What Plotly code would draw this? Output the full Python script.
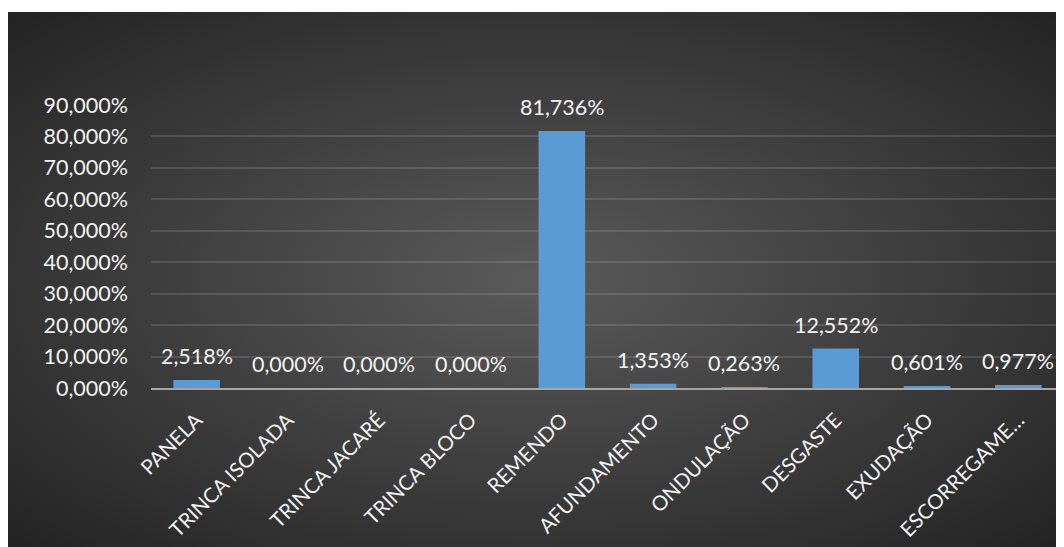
import plotly.graph_objects as go
import base64

categories = ["PANELA", "TRINCA ISOLADA", "TRINCA JACARÉ", "TRINCA BLOCO", "REMENDO",
              "AFUNDAMENTO", "ONDULAÇÃO", "DESGASTE", "EXUDAÇÃO", "ESCORREGAME…"]
values = [2.518, 0.000, 0.000, 0.000, 81.736, 1.353, 0.263, 12.552, 0.601, 0.977]
y_ticks = [0, 10, 20, 30, 40, 50, 60, 70, 80, 90]
y_tick_text = [f"{v:.3f}%".replace(".", ",") for v in y_ticks]
value_labels = [f"{v:.3f}%".replace(".", ",") for v in values]

# page has an 8px body margin, so the figure is 1056x539 placed at (8,8)
W, H = 1056, 539
L, R, T, B = 143, 0, 97, 159
pw, ph = W - L - R, H - T - B

BGX0, BGY0 = -1, 4
BGW, BGH = W - BGX0, H - BGY0
svg = (
    f'<svg xmlns="http://www.w3.org/2000/svg" width="{BGW}" height="{BGH}" preserveAspectRatio="none">'
    '<defs><radialGradient id="g" cx="50%" cy="50%" r="72%">'
    '<stop offset="0%" stop-color="#5a5a5a"/>'
    '<stop offset="100%" stop-color="#222222"/>'
    '</radialGradient></defs>'
    f'<rect width="{BGW}" height="{BGH}" fill="url(#g)"/></svg>'
)
src = "data:image/svg+xml;base64," + base64.b64encode(svg.encode()).decode()

font = "Lato, 'Open Sans', sans-serif"
FS = 21.5
fig = go.Figure()
fig.add_trace(go.Bar(
    x=categories, y=values,
    marker=dict(color="#5b9bd5", line=dict(width=0)),
    width=0.51, hoverinfo="x+y",
))

for c, v, t in zip(categories, values, value_labels):
    fig.add_annotation(
        x=c, y=v, text=t, showarrow=False, yanchor="middle", yshift=24,
        font=dict(color="#f2f2f2", size=FS, family=font),
    )

fig.add_layout_image(dict(
    source=src, xref="paper", yref="paper",
    x=(BGX0 - L) / pw, y=1 + (T - BGY0) / ph,
    sizex=BGW / pw, sizey=BGH / ph,
    xanchor="left", yanchor="top", sizing="stretch", layer="below",
))

fig.update_layout(
    width=W, height=H,
    margin=dict(l=L, r=R, t=T, b=B),
    paper_bgcolor="white", plot_bgcolor="rgba(0,0,0,0)",
    showlegend=False,
    font=dict(family=font, color="#f2f2f2", size=FS),
    xaxis=dict(
        tickangle=-45, tickfont=dict(size=20.5, color="#f2f2f2", family=font),
        showgrid=False, showline=True, linecolor="#a6a6a6", linewidth=2,
        ticks="", ticklabelstandoff=10,
    ),
    yaxis=dict(
        range=[0, 90], tickvals=y_ticks, ticktext=y_tick_text,
        tickfont=dict(size=FS, color="#f2f2f2", family=font),
        showgrid=True, gridcolor="rgba(255,255,255,0.12)", gridwidth=1.5,
        zeroline=False, showline=False, ticks="", ticklabelstandoff=22,
    ),
)

fig.write_html("out.html")
